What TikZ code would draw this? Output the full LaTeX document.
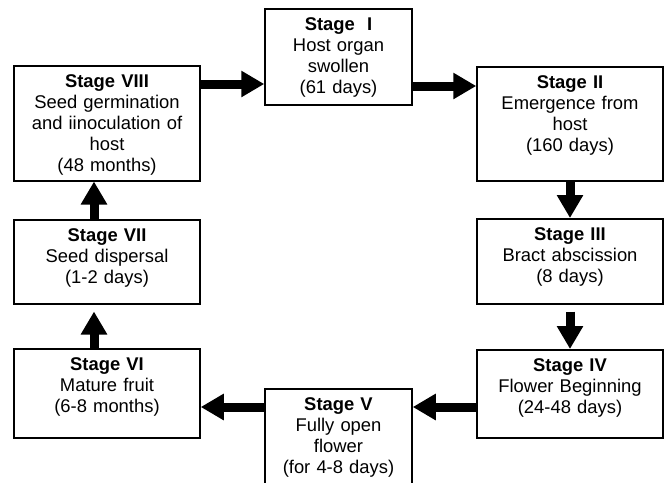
\documentclass[tikz,border=0pt]{standalone}
\usepackage{fontspec}
\setmainfont{Liberation Sans}
\usetikzlibrary{arrows.meta}

\tikzset{
  stage/.style={draw, line width=1.5pt, anchor=north, align=center,
    inner xsep=0pt, inner ysep=0pt, text height=22pt,
    font=\fontsize{18.4}{21}\selectfont},
  flow/.style={line width=9pt, -{Triangle[length=23pt,width=25pt]}}
}

\begin{document}
\begin{tikzpicture}[x=1pt,y=-1pt]
        \useasboundingbox (0,0) rectangle (664,482);
        \clip (0,0) rectangle (664,482);
        \node[stage, text width=147pt, text depth=74pt] (s1) at (338.5,8) {\textbf{Stage~\ I}\\Host organ\\swollen\\(61 days)};
        \node[stage, text width=186pt, text depth=92pt] (s2) at (570,66) {\textbf{Stage II}\\Emergence from\\host\\(160 days)};
        \node[stage, text width=186pt, text depth=63pt] (s3) at (570,218) {\textbf{Stage III}\\Bract abscission\\(8 days)};
        \node[stage, text width=186pt, text depth=66pt] (s4) at (570,349) {\textbf{Stage IV}\\Flower Beginning\\(24-48 days)};
        \node[stage, text width=147pt, text depth=90pt] (s5) at (338.5,388) {\textbf{Stage V}\\Fully open\\flower\\(for 4-8 days)};
        \node[stage, text width=186pt, text depth=67pt] (s6) at (107,348) {\textbf{Stage VI}\\Mature fruit\\(6-8 months)};
        \node[stage, text width=186pt, text depth=62pt] (s7) at (107,219) {\textbf{Stage VII}\\Seed dispersal\\(1-2 days)};
        \node[stage, text width=186pt, text depth=93pt] (s8) at (107,65) {\textbf{Stage VIII}\\Seed germination\\and iinoculation of\\host\\(48 months)};
        % arrows round the cycle
        \foreach \a/\b/\y in {s8/s1/84, s1/s2/86}
        \draw[flow] (\a.east |- 0,\y) -- (\b.west |- 0,\y);
        \foreach \a/\b/\y in {s4/s5/407, s5/s6/407}
        \draw[flow] (\a.west |- 0,\y) -- (\b.east |- 0,\y);
        \draw[flow] (s2.south) -- (s3.north);
        \draw[flow, shorten <=7pt] (s3.south) -- (s4.north);
        \draw[flow, shorten >=7pt] (s6.north -| 94,0) -- (s7.south -| 94,0);
        \draw[flow] (s7.north -| 94,0) -- (s8.south -| 94,0);
      \end{tikzpicture}
\end{document}
